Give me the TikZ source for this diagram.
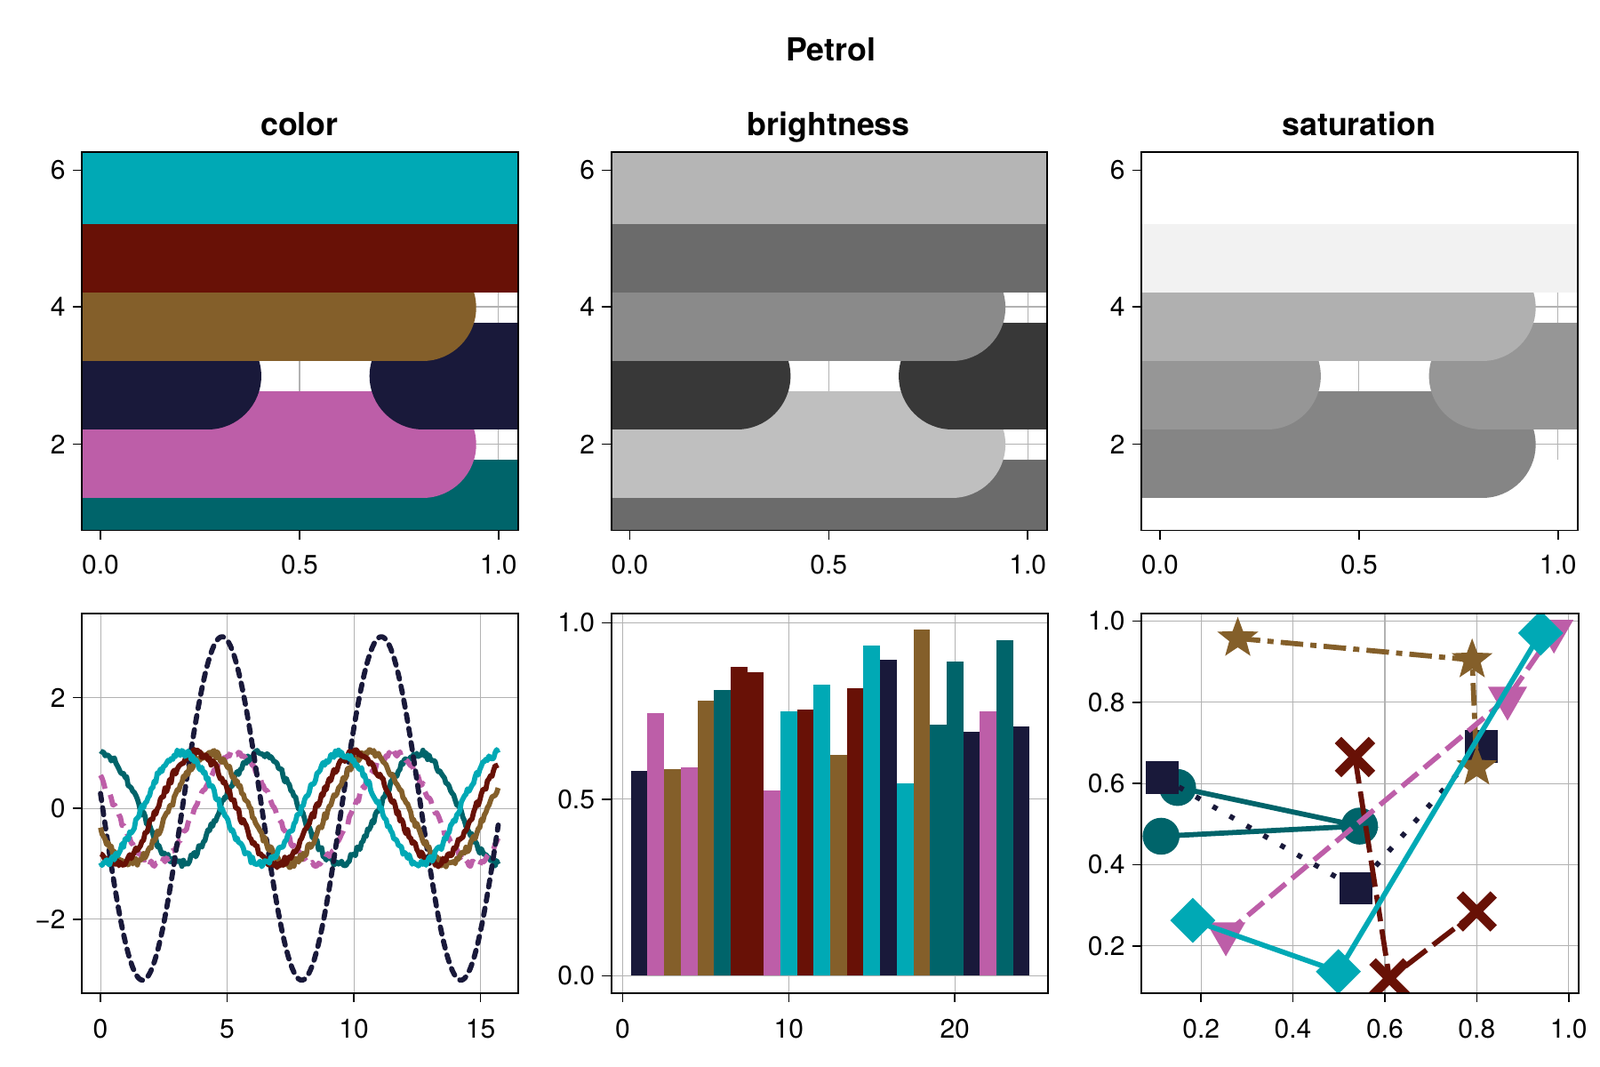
\documentclass[tikz,border=0pt]{standalone}
\usepackage{fontspec}
\setmainfont{TeX Gyre Heros}
\usetikzlibrary{shapes.geometric,shapes.misc}
\definecolor{pteal}{HTML}{00646A}
\definecolor{ppink}{HTML}{BD5EA8}
\definecolor{pnavy}{HTML}{19193A}
\definecolor{pbrown}{HTML}{845F2A}
\definecolor{pred}{HTML}{681106}
\definecolor{pcyan}{HTML}{00A9B5}
\tikzset{
  grid/.style={draw=black!30,line width=1pt},
  frame/.style={draw=black,line width=1.6pt},
  tk/.style={draw=black,line width=1.4pt},
  tl/.style={font=\fontsize{26}{26}\selectfont,inner sep=0pt},
  ttl/.style={font=\fontsize{31}{31}\selectfont\bfseries,inner sep=0pt,anchor=base},
  mkc/.style={circle,fill=pteal,minimum size=36pt,inner sep=0pt},
  mks/.style={rectangle,fill=pnavy,minimum size=32pt,inner sep=0pt},
  mkx/.style={cross out,draw=pred,line width=9pt,minimum size=24pt,inner sep=0pt},
  mkst/.style={star,star points=5,star point ratio=2.4,fill=pbrown,minimum size=42pt,inner sep=0pt},
  mkt/.style={regular polygon,regular polygon sides=3,shape border rotate=180,fill=ppink,minimum size=44pt,inner sep=0pt},
  mkd/.style={diamond,fill=pcyan,minimum size=46pt,inner sep=0pt},
}
\newcommand\bandpanel[8]{%
\begin{scope}[xshift=#1pt]
\begin{scope}
\clip (80,148) rectangle (505,517);
\foreach \gx in {98,292,486} \draw[grid] (\gx,148)--(\gx,517);
\foreach \gy in {166,299,433} \draw[grid] (80,\gy)--(505,\gy);
\begin{scope}[shift={(98,566.4)},x=388pt,y=66.7pt,line width=104pt,line cap=round]
\draw[color=#3] (-0.5,1)--(1.5,1);
\draw[color=#4] (-0.5,2)--(0.81,2);
\draw[color=#5] (-0.5,3)--(0.27,3);
\draw[color=#5] (0.81,3)--(1.5,3);
\draw[color=#6] (-0.5,4)--(0.81,4);
\draw[color=#7] (-0.5,5)--(1.5,5);
\draw[color=#8] (-0.5,6)--(1.5,6);
\end{scope}
\end{scope}
\draw[frame] (80,148) rectangle (505,517);
\foreach \gx/\lab in {98/0.0,292/0.5,486/1.0} {\draw[tk] (\gx,517)--(\gx,526); \node[tl] at (\gx,550) {\lab};}
\foreach \gy/\lab in {166/6,299/4,433/2} {\draw[tk] (80,\gy)--(71,\gy); \node[tl,anchor=east] at (64,\gy) {\lab};}
\node[ttl] at (292,132) {#2};
\end{scope}}
\begin{document}
\begin{tikzpicture}[x=1pt,y=-1pt]
\useasboundingbox[fill=white] (0,0) rectangle (1560,1040);
\node[ttl] (title) at (810,59) {Petrol};
\bandpanel{0}{color}{pteal}{ppink}{pnavy}{pbrown}{pred}{pcyan}
\bandpanel{516}{brightness}{black!58}{black!25}{black!78}{black!46}{black!58}{black!29}
\bandpanel{1033}{saturation}{white}{black!48}{black!41}{black!31}{black!5}{white}
% bottom-left lines
\begin{scope}
\clip (80,598) rectangle (505,968);
\foreach \gx in {98,221.5,345,468.5} \draw[grid] (\gx,598)--(\gx,968);
\foreach \gy in {680,788,896} \draw[grid] (80,\gy)--(505,\gy);
\begin{scope}[shift={(98,788)},x=24.7pt,y=54pt,line width=5pt,line join=round]
\draw[pteal,samples=260,domain=0:15.7] plot (\x,{cos(\x r)+0.07*rand});
\draw[ppink,dash pattern=on 14pt off 8pt,samples=260,domain=0:15.7] plot (\x,{cos((\x-5.3) r)+0.05*rand});
\draw[pnavy,dash pattern=on 7pt off 7pt,line cap=round,samples=200,domain=0:15.7] plot (\x,{3.1*cos((\x-4.8) r)});
\draw[pbrown,samples=260,domain=0:15.7] plot (\x,{cos((\x-4.3) r)+0.07*rand});
\draw[pred,samples=260,domain=0:15.7] plot (\x,{cos((\x-3.8) r)+0.07*rand});
\draw[pcyan,samples=260,domain=0:15.7] plot (\x,{cos((\x-3.2) r)+0.07*rand});
\end{scope}
\end{scope}
\draw[frame] (80,598) rectangle (505,968);
\foreach \gx/\lab in {98/0,221.5/5,345/10,468.5/15} {\draw[tk] (\gx,968)--(\gx,977); \node[tl] at (\gx,1003) {\lab};}
\foreach \gy/\lab in {680/2,788/0,896/−2} {\draw[tk] (80,\gy)--(71,\gy); \node[tl,anchor=east] at (64,\gy) {\lab};}
% bottom-middle bars
\begin{scope}
\clip (596,598) rectangle (1022,968);
\foreach \gx in {607,769,931} \draw[grid] (\gx,598)--(\gx,968);
\foreach \gy in {951,779,607} \draw[grid] (596,\gy)--(1022,\gy);
\begin{scope}[shift={(607,951)},x=16.2pt,y=344pt]
\foreach \i/\h/\c in {1/0.58/pnavy,2/0.745/ppink,3/0.585/pbrown,4/0.59/ppink,5/0.78/pbrown,6/0.81/pteal,7/0.875/pred,8/0.86/pred,9/0.525/ppink,10/0.75/pcyan,11/0.755/pred,12/0.825/pcyan,13/0.625/pbrown,14/0.815/pred,15/0.935/pcyan,16/0.895/pnavy,17/0.545/pcyan,18/0.98/pbrown,19/0.71/pteal,20/0.89/pteal,21/0.69/pnavy,22/0.75/ppink,23/0.95/pteal,24/0.705/pnavy}
  \fill[\c] (\i-0.5,0) rectangle (\i+0.5,\h);
\end{scope}
\end{scope}
\draw[frame] (596,598) rectangle (1022,968);
\foreach \gx/\lab in {607/0,769/10,931/20} {\draw[tk] (\gx,968)--(\gx,977); \node[tl] at (\gx,1003) {\lab};}
\foreach \gy/\lab in {951/0.0,779/0.5,607/1.0} {\draw[tk] (596,\gy)--(587,\gy); \node[tl,anchor=east] at (580,\gy) {\lab};}
% bottom-right scatter
\begin{scope}
\clip (1113,598) rectangle (1539,968);
\foreach \gx in {1171,1260.6,1350.2,1439.8,1529.4} \draw[grid] (\gx,598)--(\gx,968);
\foreach \gy in {922,842.8,763.6,684.4,605.2} \draw[grid] (1113,\gy)--(1539,\gy);
\begin{scope}[shift={(1081.4,1001.2)},x=448pt,y=396pt,line width=5pt]
\coordinate (c1) at (0.149,0.59); \coordinate (c2) at (0.545,0.495); \coordinate (c3) at (0.113,0.47);
\draw[pteal] (c1)--(c2)--(c3);
\node[mkc] at (c1) {}; \node[mkc] at (c2) {}; \node[mkc] at (c3) {};
\coordinate (s1) at (0.115,0.615); \coordinate (s2) at (0.537,0.342); \coordinate (s3) at (0.81,0.69);
\draw[pnavy,dash pattern=on 5pt off 14pt] (s1)--(s2)--(s3);
\node[mks] at (s1) {}; \node[mks] at (s2) {}; \node[mks] at (s3) {};
\coordinate (x1) at (0.535,0.665); \coordinate (x2) at (0.61,0.12); \coordinate (x3) at (0.80,0.285);
\draw[pred,dash pattern=on 26pt off 8pt] (x1)--(x2)--(x3);
\node[mkx] at (x1) {}; \node[mkx] at (x2) {}; \node[mkx] at (x3) {};
\coordinate (r1) at (0.28,0.957); \coordinate (r2) at (0.79,0.904); \coordinate (r3) at (0.80,0.64);
\draw[pbrown,dash pattern=on 22pt off 7pt on 6pt off 7pt] (r1)--(r2)--(r3);
\node[mkst] at (r1) {}; \node[mkst] at (r2) {}; \node[mkst] at (r3) {};
\coordinate (t1) at (0.254,0.23); \coordinate (t2) at (0.867,0.81); \coordinate (t3) at (0.968,0.975);
\draw[ppink,dash pattern=on 20pt off 8pt] (t1)--(t2)--(t3);
\node[mkt] at (t1) {}; \node[mkt] at (t2) {}; \node[mkt] at (t3) {};
\coordinate (d1) at (0.182,0.263); \coordinate (d2) at (0.499,0.137); \coordinate (d3) at (0.939,0.97);
\draw[pcyan] (d1)--(d2)--(d3);
\node[mkd] at (d1) {}; \node[mkd] at (d2) {}; \node[mkd] at (d3) {};
\end{scope}
\end{scope}
\draw[frame] (1113,598) rectangle (1539,968);
\foreach \gx/\lab in {1171/0.2,1260.6/0.4,1350.2/0.6,1439.8/0.8,1529.4/1.0} {\draw[tk] (\gx,968)--(\gx,977); \node[tl] at (\gx,1003) {\lab};}
\foreach \gy/\lab in {922/0.2,842.8/0.4,763.6/0.6,684.4/0.8,605.2/1.0} {\draw[tk] (1113,\gy)--(1104,\gy); \node[tl,anchor=east] at (1097,\gy) {\lab};}
\end{tikzpicture}
\end{document}
